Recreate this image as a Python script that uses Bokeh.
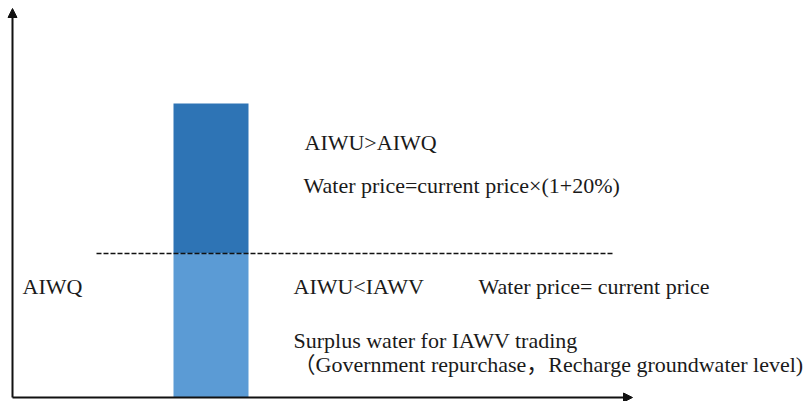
from bokeh.plotting import figure
from bokeh.models import Range1d, Arrow, NormalHead, Label
from bokeh.embed import file_html
from bokeh.resources import INLINE

# ---- data (diagram units) ----
segments = ["AIWU within AIWQ", "AIWU above AIWQ"]
aiwq_level = [144]          # threshold (dashed line)
aiwu_level = [294]          # total actual irrigation water use
bar_center = [198.5]

labels = [
    "AIWU>AIWQ",
    "Water price=current price\u00d7(1+20%)",
    "AIWQ",
    "AIWU<IAWV",
    "Water price= current price",
    "Surplus water for IAWV trading",
    "\uff08Government repurchase\uff0cRecharge groundwater  level)",
]
label_x = [292, 291, 10, 281, 466, 281, 281]
label_y = [243, 200, 99, 99, 99, 45, 21]   # bottom of text box

p = figure(width=809, height=401, x_range=Range1d(-12, 797), y_range=Range1d(-4, 397),
           x_axis_type=None, y_axis_type=None, output_backend="svg",
           toolbar_location=None, min_border=0)
p.grid.visible = False
p.outline_line_color = None

# bar: lower part up to AIWQ, upper part from AIWQ to AIWU
p.vbar(x=bar_center, width=75, bottom=0, top=aiwq_level,
       fill_color="#5B9BD5", line_color=None)
p.vbar(x=bar_center, width=75, bottom=aiwq_level, top=aiwu_level,
       fill_color="#2E74B5", line_color=None)

# dashed AIWQ line
p.segment(x0=[84], x1=[602], y0=aiwq_level, y1=aiwq_level,
          line_color="#111111", line_width=1.5, line_dash="5 2")

# axes with arrow heads
p.add_layout(Arrow(x_start=0, y_start=0, x_end=620, y_end=0, line_width=2,
                   line_color="#111111",
                   end=NormalHead(size=9, fill_color="#111111", line_color="#111111")))
p.add_layout(Arrow(x_start=0, y_start=0, x_end=0, y_end=389, line_width=2,
                   line_color="#111111",
                   end=NormalHead(size=9, fill_color="#111111", line_color="#111111")))

for lx, ly, lt in zip(label_x, label_y, labels):
    p.add_layout(Label(x=lx, y=ly, text=lt,
                       text_font="Liberation Serif, Noto Sans CJK SC",
                       text_font_size="22px", text_color="#1a1a1a"))

open("out.html", "w").write(file_html(p, INLINE))
